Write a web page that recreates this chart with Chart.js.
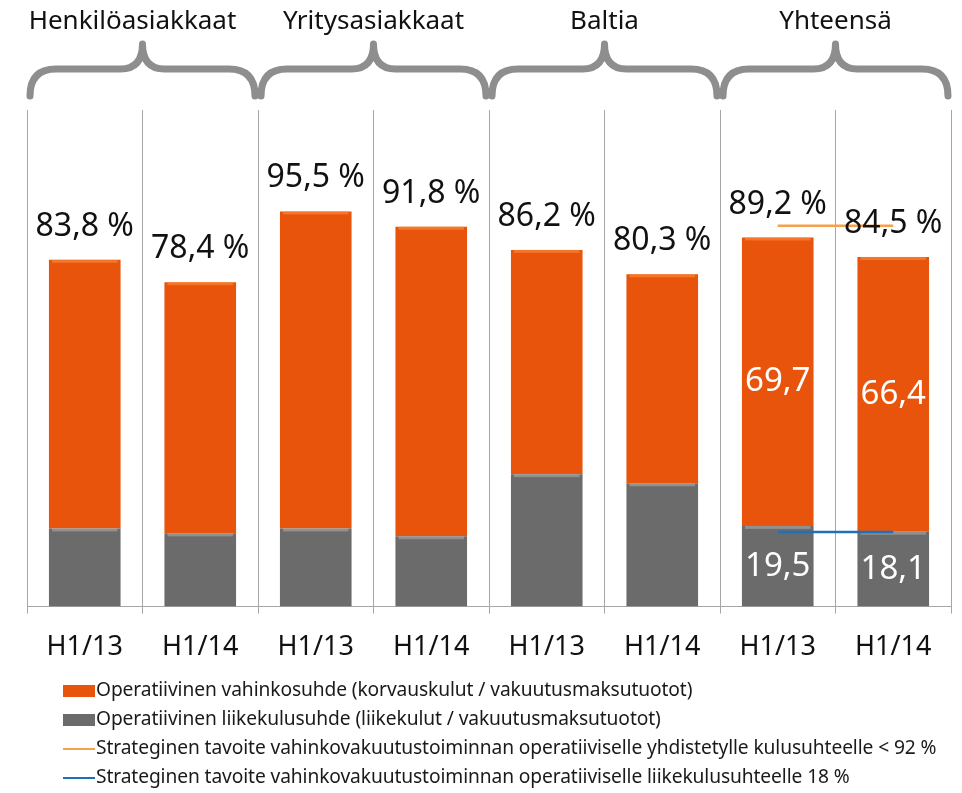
<!DOCTYPE html>
<html lang="fi">
<head>
<meta charset="utf-8">
<script src="https://cdn.jsdelivr.net/npm/chart.js@4.4.1/dist/chart.umd.min.js"></script>
<style>
    body { margin: 0; background: #fff; font-family: "Noto Sans", sans-serif; }
    #wrap { position: relative; width: 962px; height: 793px; }
    #chart { position: absolute; left: 0; top: 0; }
    #legend { position: absolute; left: 63px; top: 674px; font-size: 19.2px; color: #1a1a1a; letter-spacing: -0.1px; }
    .row { height: 29px; line-height: 29px; white-space: nowrap; }
    .sw { display: inline-block; width: 32px; vertical-align: middle; margin-right: 1px; }
</style>
</head>
<body>
<div id="wrap">
    <canvas id="chart" width="962" height="682"></canvas>
    <div id="legend"></div>
</div>
<script>
// Kategoriat ja ryhmät
const periods = ['H1/13', 'H1/14', 'H1/13', 'H1/14', 'H1/13', 'H1/14', 'H1/13', 'H1/14'];
const groups = ['Henkilöasiakkaat', 'Yritysasiakkaat', 'Baltia', 'Yhteensä'];

// Sarjat (%)
const expenseRatio = [18.9, 17.7, 18.9, 17.0, 32.0, 29.8, 19.5, 18.1];
const lossRatio = [64.9, 60.7, 76.6, 74.8, 54.2, 50.5, 69.7, 66.4];
const combinedTarget = [null, null, null, null, null, null, 92, 92];
const expenseTarget = [null, null, null, null, null, null, 18, 18];

// Sisäiset arvot näytetään vain Yhteensä-pylväissä
const innerLabelIdx = [6, 7];

const legendItems = [
    { text: 'Operatiivinen vahinkosuhde (korvauskulut / vakuutusmaksutuotot)', color: '#E8540C', type: 'box' },
    { text: 'Operatiivinen liikekulusuhde (liikekulut / vakuutusmaksutuotot)', color: '#6B6B6B', type: 'box' },
    { text: 'Strateginen tavoite vahinkovakuutustoiminnan operatiiviselle yhdistetylle kulusuhteelle < 92 %', color: '#F5A04A', type: 'line' },
    { text: 'Strateginen tavoite vahinkovakuutustoiminnan operatiiviselle liikekulusuhteelle 18 %', color: '#1F6FBA', type: 'line' }
];

function fmt(v) {
    return v.toFixed(1).replace('.', ',');
}

// Arvot, otsikot ja aaltosulkeet
const overlayPlugin = {
    id: 'overlay',
    afterDatasetsDraw(chart) {
        const ctx = chart.ctx;
        const greyMeta = chart.getDatasetMeta(0);
        const orangeMeta = chart.getDatasetMeta(1);
        ctx.save();
        ctx.textAlign = 'center';
        ctx.textBaseline = 'middle';
        ctx.font = '32px "Noto Sans"';
        ctx.fillStyle = '#111';
        orangeMeta.data.forEach((bar, i) => {
            const total = expenseRatio[i] + lossRatio[i];
            ctx.fillText(fmt(total) + ' %', bar.x, bar.y - 33);
        });
        ctx.font = '33px "Noto Sans"';
        ctx.fillStyle = '#fff';
        innerLabelIdx.forEach(i => {
            const o = orangeMeta.data[i];
            const g = greyMeta.data[i];
            ctx.fillText(fmt(lossRatio[i]), o.x, (o.y + o.base) / 2);
            ctx.fillText(fmt(expenseRatio[i]), g.x, (g.y + g.base) / 2);
        });
        ctx.restore();
    },
    afterDraw(chart) {
        const ctx = chart.ctx;
        const area = chart.chartArea;
        const step = (area.right - area.left) / periods.length;
        ctx.save();
        groups.forEach((name, g) => {
            const x0 = area.left + step * 2 * g + 3;
            const x1 = area.left + step * (2 * g + 2) - 3;
            const xc = (x0 + x1) / 2;
            const yb = 96, yh = 69, yp = 44;
            ctx.beginPath();
            ctx.moveTo(x0, yb);
            ctx.quadraticCurveTo(x0, yh, x0 + 26, yh);
            ctx.lineTo(xc - 22, yh);
            ctx.quadraticCurveTo(xc, yh, xc, yp);
            ctx.quadraticCurveTo(xc, yh, xc + 22, yh);
            ctx.lineTo(x1 - 26, yh);
            ctx.quadraticCurveTo(x1, yh, x1, yb);
            ctx.strokeStyle = '#8E8E8E';
            ctx.lineWidth = 7;
            ctx.lineCap = 'round';
            ctx.lineJoin = 'round';
            ctx.stroke();

            ctx.fillStyle = '#111';
            ctx.font = '26px "Noto Sans"';
            ctx.textAlign = 'center';
            ctx.textBaseline = 'middle';
            ctx.fillText(name, xc - (g === 0 ? 10 : 0), 22);
        });
        ctx.restore();
    }
};

// Kevyt viiste pylväiden yläreunaan
const bevelPlugin = {
    id: 'bevel',
    afterDatasetDraw(chart, args) {
        if (args.index > 1) return;
        const ctx = chart.ctx;
        ctx.save();
        ctx.fillStyle = args.index === 0 ? 'rgba(255,255,255,0.25)' : 'rgba(255,140,60,0.6)';
        args.meta.data.forEach(bar => {
            ctx.fillRect(bar.x - bar.width / 2 + 3, bar.y, bar.width - 6, 3);
        });
        ctx.restore();
    }
};

new Chart(document.getElementById('chart'), {
    type: 'bar',
    data: {
        labels: periods,
        datasets: [
            {
                label: legendItems[1].text,
                data: expenseRatio,
                backgroundColor: '#6B6B6B',
                stack: 'bars',
                order: 2
            },
            {
                label: legendItems[0].text,
                data: lossRatio,
                backgroundColor: '#E8540C',
                stack: 'bars',
                order: 2
            },
            {
                type: 'line',
                label: legendItems[2].text,
                data: combinedTarget,
                borderColor: '#F5A04A',
                borderWidth: 2.5,
                pointRadius: 0,
                stack: 't1',
                order: 0
            },
            {
                type: 'line',
                label: legendItems[3].text,
                data: expenseTarget,
                borderColor: '#1F6FBA',
                borderWidth: 2.5,
                pointRadius: 0,
                stack: 't2',
                order: 0
            }
        ]
    },
    options: {
        responsive: false,
        animation: false,
        devicePixelRatio: 1,
        layout: { padding: { left: 27, right: 11, top: 110, bottom: 0 } },
        datasets: {
            bar: { categoryPercentage: 1, barPercentage: 0.62 }
        },
        plugins: {
            legend: { display: false },
            tooltip: { enabled: false }
        },
        scales: {
            x: {
                stacked: true,
                grid: { offset: true, color: '#A6A6A6', lineWidth: 1, tickLength: 7 },
                border: { color: '#A6A6A6' },
                ticks: { color: '#111', padding: 18, font: { family: 'Noto Sans', size: 27 } }
            },
            y: {
                display: false,
                stacked: true,
                min: 0,
                max: 120
            }
        }
    },
    plugins: [overlayPlugin, bevelPlugin]
});

// Selite
const legend = document.getElementById('legend');
legendItems.forEach(item => {
    const row = document.createElement('div');
    row.className = 'row';
    const sw = document.createElement('span');
    sw.className = 'sw';
    sw.style.background = item.color;
    sw.style.height = item.type === 'box' ? '12px' : '2px';
    row.appendChild(sw);
    row.appendChild(document.createTextNode(item.text));
    legend.appendChild(row);
});
</script>
</body>
</html>
